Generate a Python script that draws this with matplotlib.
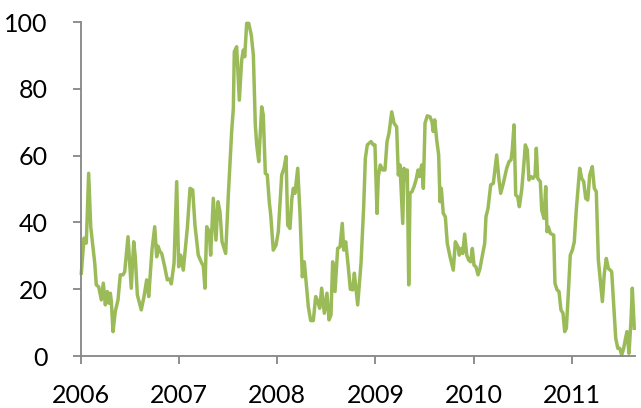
import numpy as np
import matplotlib
matplotlib.use('Agg')
import matplotlib.pyplot as plt

# weekly index level, time given as years after start of 2006
year_offset = [
    0.003, 0.031, 0.054, 0.078, 0.099, 0.140, 0.156, 0.180, 0.207, 0.227,
    0.248, 0.268, 0.285, 0.299, 0.309, 0.326, 0.349, 0.377, 0.400, 0.428,
    0.445, 0.479, 0.512, 0.537, 0.553, 0.574, 0.614, 0.642, 0.669, 0.690,
    0.723, 0.751, 0.771, 0.785, 0.805, 0.822, 0.853, 0.879, 0.904, 0.920,
    0.948, 0.975, 0.995, 1.016, 1.042, 1.083, 1.111, 1.138, 1.161, 1.195,
    1.230, 1.246, 1.263, 1.281, 1.307, 1.321, 1.348, 1.375, 1.396, 1.416,
    1.437, 1.474, 1.501, 1.535, 1.552, 1.562, 1.586, 1.613, 1.637, 1.654,
    1.668, 1.688, 1.709, 1.735, 1.756, 1.776, 1.790, 1.811, 1.841, 1.857,
    1.878, 1.898, 1.918, 1.933, 1.959, 1.987, 2.010, 2.045, 2.068, 2.089,
    2.106, 2.129, 2.147, 2.163, 2.180, 2.208, 2.231, 2.255, 2.275, 2.289,
    2.316, 2.340, 2.367, 2.391, 2.412, 2.432, 2.452, 2.479, 2.506, 2.527,
    2.547, 2.564, 2.588, 2.615, 2.639, 2.662, 2.677, 2.697, 2.723, 2.744,
    2.768, 2.785, 2.819, 2.853, 2.880, 2.897, 2.917, 2.955, 2.978, 2.995,
    3.016, 3.029, 3.049, 3.074, 3.097, 3.118, 3.138, 3.166, 3.189, 3.216,
    3.233, 3.250, 3.278, 3.291, 3.304, 3.324, 3.339, 3.352, 3.372, 3.393,
    3.413, 3.434, 3.447, 3.471, 3.488, 3.505, 3.528, 3.556, 3.576, 3.589,
    3.604, 3.624, 3.644, 3.658, 3.671, 3.691, 3.712, 3.732, 3.760, 3.793,
    3.814, 3.841, 3.854, 3.875, 3.889, 3.909, 3.930, 3.950, 3.970, 3.987,
    4.004, 4.024, 4.045, 4.065, 4.093, 4.113, 4.126, 4.147, 4.174, 4.201,
    4.221, 4.235, 4.259, 4.276, 4.303, 4.337, 4.361, 4.381, 4.394, 4.412,
    4.429, 4.449, 4.466, 4.490, 4.510, 4.527, 4.547, 4.564, 4.585, 4.605,
    4.626, 4.639, 4.653, 4.680, 4.694, 4.717, 4.735, 4.748, 4.761, 4.782,
    4.816, 4.829, 4.850, 4.870, 4.890, 4.911, 4.928, 4.945, 4.965, 4.985,
    5.006, 5.026, 5.046, 5.081, 5.101, 5.122, 5.142, 5.163, 5.183, 5.209,
    5.230, 5.250, 5.271, 5.312, 5.332, 5.352, 5.373, 5.393, 5.407, 5.428,
    5.448, 5.469, 5.489, 5.509, 5.529, 5.550, 5.563, 5.583, 5.604, 5.617,
    5.637,
]

level = [
    24.8, 35.3, 33.8, 54.7, 38.7, 27.8, 21.3, 20.7, 16.8, 21.8,
    15.3, 19.3, 15.8, 18.8, 16.3, 7.3, 13.3, 16.8, 24.3, 24.3,
    25.2, 35.7, 20.3, 34.2, 29.7, 18.3, 13.8, 17.8, 22.8, 17.8,
    31.7, 38.7, 29.7, 32.9, 31.2, 30.7, 26.7, 22.8, 23.0, 21.6,
    27.8, 52.2, 26.7, 30.2, 25.7, 38.2, 50.2, 49.7, 39.2, 30.2,
    27.8, 27.0, 20.3, 38.7, 37.2, 30.2, 47.2, 34.7, 46.2, 43.2,
    34.2, 30.7, 48.2, 67.2, 74.1, 91.1, 92.6, 76.6, 88.6, 91.6,
    89.6, 99.6, 99.6, 96.1, 90.1, 69.2, 63.2, 58.2, 74.6, 72.2,
    54.7, 54.2, 46.2, 42.2, 31.7, 33.2, 37.2, 54.2, 56.2, 59.7,
    39.2, 38.2, 46.7, 50.2, 48.7, 56.2, 42.7, 23.7, 28.2, 23.7,
    14.8, 10.6, 10.6, 17.8, 16.3, 14.3, 20.3, 12.8, 18.8, 10.8,
    12.3, 28.2, 19.3, 32.2, 32.7, 39.7, 31.7, 34.2, 26.7, 20.0,
    19.8, 24.8, 15.3, 27.8, 44.7, 59.2, 63.2, 64.2, 63.2, 63.2,
    42.7, 53.7, 57.2, 55.7, 55.7, 64.2, 66.7, 73.1, 69.7, 68.6,
    54.2, 57.2, 39.7, 56.2, 52.7, 55.7, 21.3, 48.7, 49.2, 50.7,
    52.7, 55.7, 53.7, 57.2, 50.2, 69.7, 71.9, 71.6, 70.1, 67.2,
    70.7, 64.7, 60.2, 46.2, 50.2, 42.7, 41.7, 33.7, 29.7, 25.7,
    34.2, 32.7, 30.2, 32.2, 30.7, 36.5, 30.2, 28.7, 28.2, 32.2,
    27.2, 26.7, 24.3, 26.2, 30.7, 33.7, 41.7, 44.2, 51.2, 51.7,
    56.7, 60.2, 52.7, 48.7, 51.7, 56.2, 58.2, 58.7, 61.7, 69.2,
    48.2, 47.7, 44.7, 49.7, 56.7, 63.2, 61.7, 52.7, 53.7, 53.2,
    54.0, 62.2, 53.2, 52.2, 43.7, 41.2, 50.7, 37.2, 38.7, 36.7,
    36.2, 21.8, 19.8, 19.3, 13.8, 12.8, 7.3, 8.3, 18.8, 30.2,
    31.7, 34.2, 43.7, 56.2, 53.2, 52.2, 47.2, 46.7, 54.2, 56.7,
    50.2, 49.2, 28.7, 16.3, 24.8, 29.2, 26.2, 25.7, 25.2, 14.8,
    5.3, 2.3, 2.3, 0.3, 2.3, 5.6, 7.3, 0.8, 10.8, 20.3,
    8.3,
]

year_ticks = [2006, 2007, 2008, 2009, 2010, 2011]
y_ticks = [0, 20, 40, 60, 80, 100]

plt.rcParams['font.family'] = ['Lato', 'DejaVu Sans']

dates = 2006 + np.array(year_offset)

fig = plt.figure(figsize=(6.41, 4.08), dpi=100)
ax = fig.add_axes([81 / 641, 52 / 408, 554 / 641, 334 / 408])

ax.plot(dates, level, color='#9bbb59', linewidth=2.5,
        solid_joinstyle='round', clip_on=False)

ax.set_xlim(2006, 2006 + 554 / 98.15)
ax.set_ylim(0, 100)
ax.set_xticks(year_ticks)
ax.set_xticklabels([str(y) for y in year_ticks])
ax.set_yticks(y_ticks)

axis_grey = '#868686'
for side in ('top', 'right'):
    ax.spines[side].set_visible(False)
for side in ('left', 'bottom'):
    ax.spines[side].set_color(axis_grey)
    ax.spines[side].set_linewidth(1.3)

ax.tick_params(axis='both', direction='out', length=6, width=1.3,
               color=axis_grey, labelsize=18, labelcolor='black')
ax.tick_params(axis='y', pad=18)
ax.tick_params(axis='x', pad=14)

fig.savefig('out.png', dpi=100)
